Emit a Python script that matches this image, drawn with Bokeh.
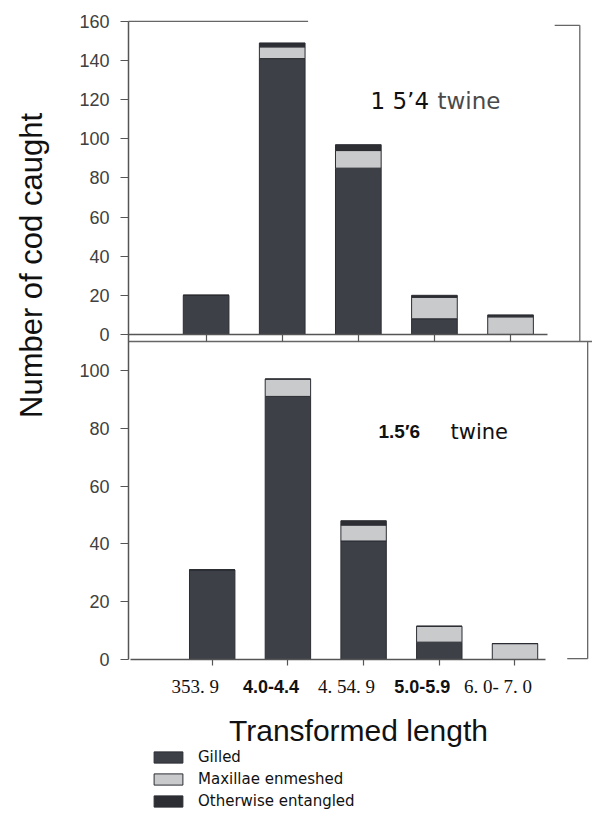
import math
from bokeh.plotting import figure
from bokeh.models import (Range1d, LinearAxis, FixedTicker, Label, Legend, LegendItem,
                          ColumnDataSource)
from bokeh.embed import file_html
from bokeh.resources import INLINE

# ---------------- data ----------------
categories = [1, 2, 3, 4, 5]
x_labels = ["353. 9", "4.0-4.4", "4. 54. 9", "5.0-5.9", "6. 0- 7. 0"]
x_label_bold = [False, True, False, True, False]

# upper panel: 1 5'4 twine
top_gilled = [20, 141, 85, 8, 0]
top_maxillae = [0, 6, 9, 11, 9]
top_other = [0, 2, 3, 1, 1]

# lower panel: 1.5'6 twine
bot_gilled = [31, 91, 41, 6, 0]
bot_maxillae = [0, 6, 5.5, 5.5, 5.5]
bot_other = [0, 0, 1.5, 0, 0]

top_ticks = [0, 20, 40, 60, 80, 100, 120, 140, 160]
bot_ticks = [0, 20, 40, 60, 80, 100]

series = ["Gilled", "Maxillae enmeshed", "Otherwise entangled"]

# ---------------- styling ----------------
BAR = "#3d4047"
GRAY = "#c9cacc"
OTHER = "#2c2e34"
EDGE = "#2b2d33"
AXIS = "#555555"
DECO = "#666666"

W, H = 592, 815   # the frame covers the whole canvas; axes are drawn at fixed locations

# lower panel (default) ranges and upper panel (extra) ranges
bot_x = Range1d(-1.7966, 6.0238)
bot_y = Range1d(-53.96, 227.95)
top_x = Range1d(-1.7017, 6.0769)
top_y = Range1d(-245.9, 170.7)

p = figure(width=W, height=H, output_backend="svg", toolbar_location=None,
           x_range=bot_x, y_range=bot_y, x_axis_type=None, y_axis_type=None,
           min_border=0, min_border_left=0, min_border_right=0,
           min_border_top=0, min_border_bottom=0)
p.extra_x_ranges = {"top": top_x}
p.extra_y_ranges = {"top": top_y}
p.outline_line_color = None
p.xgrid.visible = False
p.ygrid.visible = False


def to_bot(v):
    """position of an upper-panel value on the default (lower-panel) y range"""
    return bot_y.start + (v - top_y.start) / (top_y.end - top_y.start) * (bot_y.end - bot_y.start)


Y_AXIS_X = -0.1057   # lower-panel x where the common y axis stands

# ----- common y axis -----
ticks = [float(t) for t in bot_ticks] + [float(to_bot(t)) for t in top_ticks]
overrides = {float(t): str(t) for t in bot_ticks}
for t in top_ticks:
    overrides[float(to_bot(t))] = str(t)
yax = LinearAxis(ticker=FixedTicker(ticks=ticks), major_label_overrides=overrides,
                 fixed_location=Y_AXIS_X, bounds=(0, to_bot(160)),
                 axis_line_color=AXIS, axis_line_width=1.5,
                 major_tick_line_color=AXIS, major_tick_line_width=1.2,
                 major_tick_out=8, major_tick_in=0, minor_tick_line_color=None,
                 major_label_standoff=11,
                 major_label_text_font="Liberation Sans",
                 major_label_text_font_size="18px",
                 major_label_text_color="#404040")
p.add_layout(yax, "left")

# ----- x axis of the lower panel -----
xax = LinearAxis(ticker=FixedTicker(ticks=categories), fixed_location=0,
                 bounds=(-0.08, 5.40),
                 major_label_overrides={c: "" for c in categories},
                 axis_line_color=AXIS, axis_line_width=1.5,
                 major_tick_line_color=AXIS, major_tick_line_width=1.2,
                 major_tick_out=6, major_tick_in=0, minor_tick_line_color=None)
p.add_layout(xax, "below")

# ----- x axis of the upper panel -----
xax2 = LinearAxis(ticker=FixedTicker(ticks=categories), fixed_location=0,
                  x_range_name="top", y_range_name="top",
                  bounds=(-0.02, 5.48),
                  major_label_overrides={c: "" for c in categories},
                  axis_line_color=AXIS, axis_line_width=1.5,
                  major_tick_line_color=AXIS, major_tick_line_width=1.2,
                  major_tick_out=7, major_tick_in=0, minor_tick_line_color=None)
p.add_layout(xax2, "below")

# ----- bars -----
w = 0.6
src_top = ColumnDataSource(dict(x=categories, g=top_gilled, m=top_maxillae, o=top_other))
src_bot = ColumnDataSource(dict(x=categories, g=bot_gilled, m=bot_maxillae, o=bot_other))
rt = p.vbar_stack(["g", "m", "o"], x="x", width=w, color=[BAR, GRAY, OTHER],
                  line_color=EDGE, line_width=1, source=src_top,
                  x_range_name="top", y_range_name="top")
rb = p.vbar_stack(["g", "m", "o"], x="x", width=w, color=[BAR, GRAY, OTHER],
                  line_color=EDGE, line_width=1, source=src_bot)

# ----- frame decorations -----
p.segment(x0=[-0.02], y0=[160], x1=[2.34], y1=[160], line_color=DECO,
          line_width=1.3, x_range_name="top", y_range_name="top")
p.segment(x0=[5.58, 5.91], y0=[158, 158], x1=[5.91, 5.91], y1=[158, -3.6],
          line_color=DECO, line_width=1.3, x_range_name="top", y_range_name="top")
p.segment(x0=[Y_AXIS_X], y0=[110], x1=[bot_x.end], y1=[110], line_color=DECO,
          line_width=1.3)
p.segment(x0=[5.96, 5.69], y0=[110, 0.3], x1=[5.96, 5.96], y1=[0.3, 0.3],
          line_color=DECO, line_width=1.3)


# ----- texts (screen units from the canvas' bottom-left) -----
def lx(page_x):
    return page_x


def ly(page_y):
    return H - page_y


p.add_layout(Label(x=lx(370), y=ly(100), x_units="screen", y_units="screen",
                   text="1 5’4", text_font="DejaVu Sans", text_font_size="23px",
                   text_color="#111111", text_baseline="alphabetic"))
p.add_layout(Label(x=lx(437), y=ly(100), x_units="screen", y_units="screen",
                   text="twine", text_font="DejaVu Sans", text_font_size="23px",
                   text_color="#4a4a4a", text_baseline="alphabetic"))
p.add_layout(Label(x=lx(378), y=ly(431), x_units="screen", y_units="screen",
                   text="1.5′6", text_font="Liberation Sans", text_font_size="19px",
                   text_font_style="bold", text_color="#111111", text_baseline="alphabetic"))
p.add_layout(Label(x=lx(450), y=ly(431), x_units="screen", y_units="screen",
                   text="twine", text_font="DejaVu Sans", text_font_size="21px",
                   text_color="#111111", text_baseline="alphabetic"))

for c, lab, bold in zip(categories, x_labels, x_label_bold):
    p.add_layout(Label(x=c, y=ly(686), y_units="screen", x_offset=-17, text=lab,
                       text_align="center", text_baseline="alphabetic",
                       text_font="Liberation Sans" if bold else "Liberation Serif",
                       text_font_style="bold" if bold else "normal",
                       text_font_size="18px" if bold else "19px",
                       text_color="#111111"))

p.add_layout(Label(x=lx(358), y=ly(730), x_units="screen", y_units="screen",
                   text="Transformed length", text_align="center",
                   text_baseline="alphabetic", text_font="Liberation Sans",
                   text_font_size="30px", text_color="#111111"))
p.add_layout(Label(x=lx(31), y=ly(265), x_units="screen", y_units="screen",
                   text="Number of cod caught", angle=math.pi / 2,
                   text_align="center", text_baseline="middle",
                   text_font="Liberation Sans", text_font_size="31px",
                   text_color="#111111"))

# ----- legend -----
legend = Legend(items=[LegendItem(label=series[0], renderers=[rt[0]]),
                       LegendItem(label=series[1], renderers=[rt[1]]),
                       LegendItem(label=series[2], renderers=[rt[2]])],
                location=(150, 5), orientation="vertical",
                glyph_width=36, glyph_height=14, label_height=14, spacing=4,
                label_standoff=12, padding=0, margin=0,
                border_line_alpha=0, background_fill_alpha=0,
                label_text_font="DejaVu Sans", label_text_font_size="15px",
                label_text_color="#111111")
p.add_layout(legend, "center")

open("out.html", "w").write(file_html(p, INLINE))
